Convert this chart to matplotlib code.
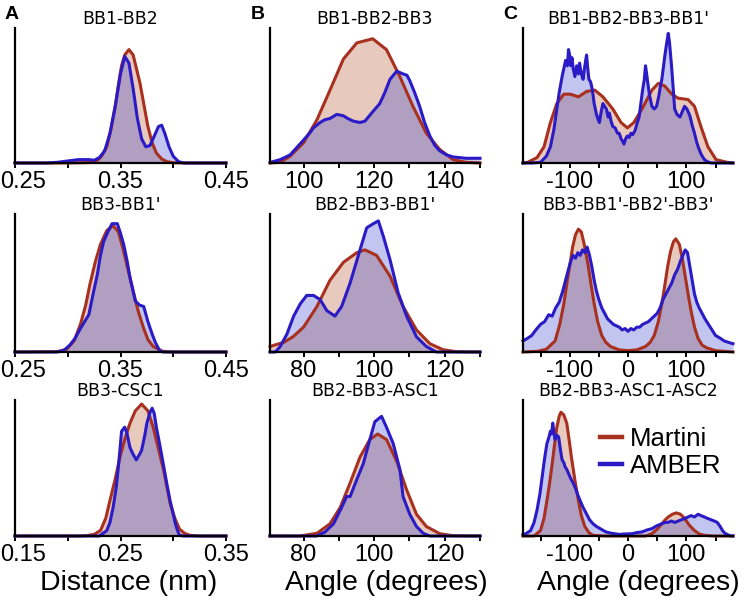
import matplotlib
matplotlib.use("Agg")
import matplotlib.pyplot as plt
from matplotlib.ticker import FixedLocator
from matplotlib.transforms import ScaledTranslation

plt.rcParams['font.family'] = ['Liberation Sans', 'DejaVu Sans']
plt.rcParams['axes.unicode_minus'] = False

# ---------------- data (relative densities) ----------------
# Panel A1: BB1-BB2 distance (nm)
a1_martini = [(0.25, 0), (0.30, 0), (0.320, 0.003), (0.327, 0.01), (0.332, 0.05), (0.337, 0.12),
              (0.341, 0.25), (0.345, 0.42), (0.348, 0.58), (0.351, 0.72), (0.354, 0.80), (0.358, 0.84),
              (0.362, 0.80), (0.3685, 0.59), (0.372, 0.44), (0.376, 0.27), (0.380, 0.15), (0.384, 0.074),
              (0.389, 0.03), (0.394, 0.01), (0.40, 0.002), (0.41, 0), (0.45, 0)]
a1_amber = [(0.25, 0), (0.28, 0), (0.29, 0.005), (0.30, 0.015), (0.31, 0.025), (0.32, 0.025),
            (0.325, 0.02), (0.33, 0.04), (0.335, 0.09), (0.34, 0.22), (0.345, 0.42), (0.35, 0.66),
            (0.354, 0.79), (0.358, 0.74), (0.362, 0.55), (0.366, 0.33), (0.370, 0.18), (0.374, 0.12),
            (0.378, 0.13), (0.382, 0.20), (0.386, 0.27), (0.389, 0.28), (0.392, 0.22), (0.396, 0.12),
            (0.400, 0.05), (0.405, 0.01), (0.41, 0), (0.45, 0)]

# Panel A2: BB3-BB1'
a2_martini = [(0.25, 0), (0.29, 0.003), (0.299, 0.02), (0.306, 0.08), (0.312, 0.20), (0.317, 0.34),
              (0.321, 0.49), (0.326, 0.65), (0.331, 0.78), (0.337, 0.88), (0.343, 0.915), (0.348, 0.87),
              (0.352, 0.76), (0.357, 0.60), (0.362, 0.44), (0.367, 0.29), (0.372, 0.17), (0.376, 0.09),
              (0.381, 0.04), (0.39, 0.005), (0.40, 0), (0.45, 0)]
a2_amber = [(0.25, 0), (0.29, 0), (0.296, 0.01), (0.302, 0.05), (0.307, 0.10), (0.312, 0.17),
            (0.316, 0.22), (0.320, 0.27), (0.324, 0.42), (0.328, 0.56), (0.331, 0.70), (0.334, 0.80),
            (0.338, 0.87), (0.342, 0.93), (0.347, 0.93), (0.350, 0.86), (0.353, 0.78), (0.356, 0.67),
            (0.359, 0.54), (0.362, 0.44), (0.364, 0.37), (0.368, 0.34), (0.372, 0.33), (0.376, 0.22),
            (0.380, 0.13), (0.383, 0.07), (0.387, 0.01), (0.39, 0), (0.45, 0)]

# Panel A3: BB3-CSC1
a3_martini = [(0.15, 0), (0.21, 0), (0.218, 0.003), (0.225, 0.012), (0.231, 0.04), (0.236, 0.13),
              (0.240, 0.26), (0.245, 0.42), (0.2495, 0.58), (0.254, 0.71), (0.259, 0.83), (0.264, 0.92),
              (0.270, 0.97), (0.276, 0.92), (0.281, 0.80), (0.286, 0.64), (0.291, 0.48), (0.297, 0.24),
              (0.302, 0.12), (0.306, 0.05), (0.311, 0.018), (0.316, 0.005), (0.325, 0), (0.35, 0)]
a3_amber = [(0.15, 0), (0.23, 0), (0.237, 0.04), (0.240, 0.10), (0.243, 0.21), (0.246, 0.36),
            (0.248, 0.51), (0.250, 0.68), (0.251, 0.77), (0.254, 0.80), (0.256, 0.76), (0.259, 0.65),
            (0.262, 0.60), (0.265, 0.56), (0.268, 0.60), (0.270, 0.63), (0.273, 0.74), (0.275, 0.83),
            (0.278, 0.91), (0.280, 0.94), (0.282, 0.90), (0.284, 0.80), (0.287, 0.68), (0.291, 0.51),
            (0.294, 0.38), (0.297, 0.26), (0.300, 0.16), (0.302, 0.09), (0.304, 0.04), (0.306, 0.005),
            (0.31, 0), (0.35, 0)]

# Panel B1: BB1-BB2-BB3 angle
b1_martini = [(90.5, 0), (93.4, 0.005), (96.2, 0.05), (100.0, 0.15), (103.8, 0.32), (107.5, 0.54),
              (111.3, 0.77), (115.1, 0.89), (119.6, 0.92), (123.5, 0.84), (127.3, 0.64), (131.0, 0.42),
              (134.8, 0.22), (138.6, 0.10), (142.4, 0.025), (146.0, 0.005), (150.0, 0)]
b1_amber = [(90.6, 0.005), (93.4, 0.025), (96.2, 0.06), (100.0, 0.17), (102.0, 0.23), (102.8, 0.26),
            (104.7, 0.30), (106.0, 0.32), (107.5, 0.33), (109.4, 0.36), (111.3, 0.35), (112.5, 0.33),
            (114.1, 0.31), (116.0, 0.30), (117.4, 0.31), (119.3, 0.37), (121.6, 0.44), (123.0, 0.52),
            (124.5, 0.62), (126.4, 0.68), (128.2, 0.66), (129.3, 0.65), (130.1, 0.61), (131.5, 0.52),
            (132.9, 0.42), (134.3, 0.30), (135.8, 0.20), (137.2, 0.13), (138.6, 0.09), (140.5, 0.06),
            (142.4, 0.045), (146.0, 0.035), (150.0, 0.035)]

# Panel B2: BB2-BB3-BB1'
b2_martini = [(70.5, 0.04), (74.4, 0.07), (77.0, 0.11), (80.0, 0.18), (83.8, 0.33), (87.5, 0.52),
              (91.3, 0.65), (95.1, 0.72), (97.4, 0.74), (100.7, 0.70), (104.5, 0.55), (108.2, 0.33),
              (112.0, 0.16), (115.8, 0.06), (119.5, 0.017), (123.3, 0.002), (130.0, 0)]
b2_amber = [(70.5, 0), (72.0, 0), (73.4, 0.04), (75.3, 0.13), (77.2, 0.26), (79.1, 0.35),
            (80.9, 0.41), (82.8, 0.41), (84.7, 0.38), (86.6, 0.30), (88.9, 0.26), (90.8, 0.33),
            (93.2, 0.50), (96.0, 0.74), (97.9, 0.90), (99.8, 0.93), (101.2, 0.95), (102.6, 0.84),
            (104.5, 0.67), (106.8, 0.43), (109.2, 0.26), (112.0, 0.11), (114.8, 0.04), (117.6, 0),
            (130.0, 0)]

# Panel B3: BB2-BB3-ASC1
b3_martini = [(70.5, 0), (79.0, 0), (83.8, 0.02), (87.5, 0.09), (90.4, 0.21), (93.2, 0.39),
              (96.0, 0.58), (98.8, 0.71), (101.0, 0.75), (103.5, 0.71), (106.4, 0.55), (109.2, 0.34),
              (112.0, 0.16), (114.8, 0.07), (118.6, 0.017), (122.4, 0.002), (130.0, 0)]
b3_amber = [(70.5, 0), (83.8, 0), (86.1, 0.03), (88.5, 0.09), (90.8, 0.21), (92.2, 0.29),
            (93.2, 0.29), (95.0, 0.41), (96.9, 0.53), (98.8, 0.71), (100.2, 0.84), (102.1, 0.88),
            (103.5, 0.80), (105.4, 0.68), (107.3, 0.49), (108.2, 0.29), (110.1, 0.16), (112.0, 0.07),
            (113.9, 0.02), (115.8, 0), (130.0, 0)]

# Panel C1: BB1-BB2-BB3-BB1' dihedral
c1_martini = [(-180, 0), (-172, 0.005), (-156, 0.04), (-144, 0.12), (-133, 0.30), (-122, 0.44),
              (-110, 0.51), (-99, 0.51), (-85, 0.49), (-71, 0.53), (-57, 0.54), (-43, 0.49),
              (-26, 0.40), (-12, 0.30), (-1, 0.26), (10, 0.30), (24, 0.40), (41, 0.54), (52, 0.59),
              (63, 0.57), (75, 0.51), (86, 0.48), (103, 0.47), (114, 0.42), (125, 0.27), (137, 0.12),
              (151, 0.025), (170, 0.005), (180, 0)]
c1_amber = [(-180, 0), (-165, 0), (-150, 0.005), (-140, 0.05), (-133, 0.12), (-127, 0.25),
            (-122, 0.40), (-118, 0.52), (-113, 0.64), (-110, 0.70), (-107, 0.76), (-104, 0.72),
            (-102, 0.84), (-100, 0.80), (-98, 0.72), (-96, 0.78), (-94, 0.70), (-91, 0.64),
            (-88, 0.72), (-85, 0.66), (-83, 0.74), (-80, 0.66), (-77, 0.62), (-74, 0.72),
            (-71, 0.80), (-69, 0.70), (-67, 0.62), (-64, 0.60), (-61, 0.54), (-58, 0.44),
            (-54, 0.36), (-51, 0.32), (-49, 0.30), (-46, 0.38), (-43, 0.44), (-40, 0.42),
            (-37, 0.40), (-34, 0.34), (-32, 0.37), (-29, 0.31), (-26, 0.27), (-22, 0.26),
            (-18, 0.22), (-15, 0.22), (-12, 0.18), (-9, 0.16), (-7, 0.14), (-4, 0.18),
            (-1, 0.20), (2, 0.19), (5, 0.22), (8, 0.21), (12, 0.24), (16, 0.30), (19, 0.34),
            (22, 0.44), (25, 0.54), (28, 0.62), (30, 0.72), (32, 0.66), (34, 0.59), (37, 0.50),
            (41, 0.42), (45, 0.40), (49, 0.42), (53, 0.50), (56, 0.58), (58, 0.62), (61, 0.72),
            (63, 0.79), (66, 0.88), (69, 0.96), (71, 0.90), (73, 0.80), (75, 0.70), (78, 0.52),
            (80, 0.40), (84, 0.36), (89, 0.34), (93, 0.38), (97, 0.42), (101, 0.40), (106, 0.35),
            (110, 0.28), (114, 0.22), (118, 0.15), (122, 0.10), (126, 0.06), (131, 0.025),
            (136, 0.01), (142, 0), (150, 0), (165, 0), (180, 0)]

# Panel C2: BB3-BB1'-BB2'-BB3'
c2_martini = [(-180, 0.0), (-155, 0.005), (-140, 0.02), (-125, 0.08), (-117, 0.20), (-110, 0.35),
              (-104, 0.52), (-100, 0.62), (-95, 0.76), (-90, 0.85), (-85, 0.89), (-80, 0.87),
              (-75, 0.78), (-68, 0.62), (-63, 0.48), (-58, 0.35), (-52, 0.22), (-45, 0.12),
              (-38, 0.07), (-30, 0.04), (-15, 0.015), (0, 0.01), (15, 0.015), (30, 0.04),
              (38, 0.07), (45, 0.12), (52, 0.22), (58, 0.35), (63, 0.48), (68, 0.62), (73, 0.73),
              (78, 0.80), (82, 0.82), (88, 0.78), (93, 0.68), (98, 0.55), (103, 0.42), (108, 0.30),
              (114, 0.18), (120, 0.10), (127, 0.05), (135, 0.03), (150, 0.01), (180, 0)]
c2_amber = [(-180, 0.08), (-172, 0.10), (-165, 0.12), (-158, 0.16), (-150, 0.20), (-143, 0.22),
            (-136, 0.27), (-130, 0.26), (-124, 0.32), (-118, 0.36), (-112, 0.44), (-107, 0.52),
            (-102, 0.60), (-98, 0.66), (-94, 0.70), (-90, 0.68), (-86, 0.72), (-82, 0.70),
            (-78, 0.74), (-74, 0.72), (-70, 0.76), (-66, 0.70), (-62, 0.62), (-58, 0.52),
            (-54, 0.44), (-50, 0.38), (-45, 0.32), (-40, 0.28), (-35, 0.24), (-30, 0.22),
            (-25, 0.20), (-20, 0.19), (-15, 0.18), (-10, 0.16), (-5, 0.17), (0, 0.15), (5, 0.17),
            (10, 0.16), (15, 0.18), (20, 0.18), (25, 0.20), (30, 0.21), (35, 0.22), (40, 0.24),
            (45, 0.26), (50, 0.28), (55, 0.32), (60, 0.38), (65, 0.42), (70, 0.46), (75, 0.50),
            (80, 0.56), (85, 0.60), (90, 0.66), (94, 0.70), (98, 0.74), (102, 0.72), (106, 0.62),
            (110, 0.52), (114, 0.42), (118, 0.36), (122, 0.32), (127, 0.28), (132, 0.24),
            (138, 0.20), (144, 0.16), (150, 0.12), (158, 0.10), (165, 0.08), (172, 0.07), (180, 0.06)]

# Panel C3: BB2-BB3-ASC1-ASC2
c3_martini = [(-180, 0), (-161, 0), (-150, 0.04), (-144, 0.13), (-139, 0.26), (-134, 0.40),
              (-130, 0.53), (-126, 0.67), (-122, 0.80), (-118, 0.88), (-115, 0.91), (-110, 0.89),
              (-105, 0.83), (-101, 0.71), (-97, 0.58), (-91, 0.41), (-85, 0.26), (-80, 0.15),
              (-74, 0.07), (-67, 0.025), (-60, 0.005), (-40, 0), (30, 0), (41, 0.017), (50, 0.05),
              (58, 0.09), (64, 0.12), (69, 0.14), (76, 0.16), (83, 0.17), (90, 0.16), (97, 0.13),
              (105, 0.08), (114, 0.04), (122, 0.015), (131, 0.005), (145, 0), (180, 0)]
c3_amber = [(-180, 0.01), (-175, 0.017), (-167, 0.04), (-161, 0.10), (-156, 0.19), (-151, 0.31),
            (-147, 0.44), (-143, 0.57), (-139, 0.68), (-136, 0.72), (-133, 0.77), (-131, 0.75),
            (-129, 0.83), (-127, 0.76), (-125, 0.71), (-122, 0.74), (-119, 0.73), (-116, 0.64),
            (-113, 0.56), (-110, 0.54), (-108, 0.51), (-105, 0.49), (-102, 0.46), (-98, 0.42),
            (-94, 0.39), (-90, 0.35), (-85, 0.29), (-81, 0.25), (-77, 0.21), (-72, 0.17),
            (-66, 0.12), (-60, 0.09), (-54, 0.07), (-46, 0.05), (-38, 0.03), (-28, 0.02),
            (-15, 0.012), (-5, 0.015), (7, 0.017), (15, 0.025), (24, 0.03), (33, 0.045), (41, 0.054),
            (47, 0.07), (52, 0.08), (58, 0.09), (64, 0.10), (69, 0.10), (74, 0.11), (80, 0.10),
            (86, 0.11), (92, 0.12), (98, 0.13), (103, 0.14), (108, 0.15), (114, 0.14), (120, 0.16),
            (125, 0.15), (131, 0.14), (136, 0.13), (142, 0.12), (148, 0.11), (153, 0.10),
            (158, 0.07), (162, 0.04), (166, 0.02), (170, 0.012), (176, 0), (180, 0)]

titles = [["BB1-BB2", "BB1-BB2-BB3", "BB1-BB2-BB3-BB1'"],
          ["BB3-BB1'", "BB2-BB3-BB1'", "BB3-BB1'-BB2'-BB3'"],
          ["BB3-CSC1", "BB2-BB3-ASC1", "BB2-BB3-ASC1-ASC2"]]
series = [[(a1_martini, a1_amber), (b1_martini, b1_amber), (c1_martini, c1_amber)],
          [(a2_martini, a2_amber), (b2_martini, b2_amber), (c2_martini, c2_amber)],
          [(a3_martini, a3_amber), (b3_martini, b3_amber), (c3_martini, c3_amber)]]
xlims = [[(0.25, 0.45), (90.5, 150), (-180, 180)],
         [(0.25, 0.45), (70.5, 130), (-180, 180)],
         [(0.15, 0.35), (70.5, 130), (-180, 180)]]
major_ticks = [[[0.25, 0.35, 0.45], [100, 120, 140], [-100, 0, 100]],
               [[0.25, 0.35, 0.45], [80, 100, 120], [-100, 0, 100]],
               [[0.15, 0.25, 0.35], [80, 100, 120], [-100, 0, 100]]]
minor_ticks = [[[0.30, 0.40], [110, 130, 150], [-150, -50, 50, 150]],
               [[0.30, 0.40], [90, 110, 130], [-150, -50, 50, 150]],
               [[0.20, 0.30], [90, 110, 130], [-150, -50, 50, 150]]]
tick_labels = [[["0.25", "0.35", "0.45"], ["100", "120", "140"], ["-100", "0", "100"]],
               [["0.25", "0.35", "0.45"], ["80", "100", "120"], ["-100", "0", "100"]],
               [["0.15", "0.25", "0.35"], ["80", "100", "120"], ["-100", "0", "100"]]]
xlabels = ["Distance (nm)", "Angle (degrees)", "Angle (degrees)"]
panel_letters = ["A", "B", "C"]
legend_labels = ["Martini", "AMBER"]

# ---------------- style ----------------
RED = "#A8301E"
BLUE = "#2B1BC6"
RED_FILL = (0.70, 0.30, 0.15)
BLUE_FILL = (0.20, 0.25, 0.80)

W, H = 747, 602
fig = plt.figure(figsize=(W / 100, H / 100), dpi=100)

col_left = [15, 270, 523]
col_width = [211, 210, 210]
row_top = [28, 214, 400]
row_bottom = [163, 352, 536]

for r in range(3):
    for c in range(3):
        ax = fig.add_axes([col_left[c] / W, 1 - row_bottom[r] / H,
                           col_width[c] / W, (row_bottom[r] - row_top[r]) / H])
        mart, amb = series[r][c]
        mx, my = zip(*mart)
        bx, by = zip(*amb)
        ax.fill_between(mx, my, 0, color=RED_FILL, alpha=0.3, lw=0)
        ax.fill_between(bx, by, 0, color=BLUE_FILL, alpha=0.3, lw=0)
        ax.plot(mx, my, color=RED, lw=2.2, clip_on=False, label=legend_labels[0])
        ax.plot(bx, by, color=BLUE, lw=2.2, clip_on=False, label=legend_labels[1])
        ax.set_xlim(*xlims[r][c])
        ax.set_ylim(0, 1)
        for s in ("top", "right"):
            ax.spines[s].set_visible(False)
        for s in ("left", "bottom"):
            ax.spines[s].set_linewidth(1.6)
            ax.spines[s].set_color("black")
        ax.set_yticks([])
        ax.xaxis.set_major_locator(FixedLocator(major_ticks[r][c]))
        ax.xaxis.set_minor_locator(FixedLocator(minor_ticks[r][c]))
        ax.set_xticklabels(tick_labels[r][c])
        ax.tick_params(axis="x", which="both", direction="out", length=3.6, width=1.4,
                       labelsize=17, pad=2.5)
        if c == 0:
            first = ax.get_xticklabels()[0]
            first.set_horizontalalignment("left")
            first.set_transform(first.get_transform() +
                                ScaledTranslation(-15 / 100, 0, fig.dpi_scale_trans))
        ax.set_title(titles[r][c], fontsize=12.5, pad=0.5, family="DejaVu Sans")
        ax.patch.set_alpha(0)
        if r == 2 and c == 2:
            ax.legend(loc="upper left", bbox_to_anchor=(600 / W, 1 - 427 / H),
                      bbox_transform=fig.transFigure, frameon=False, fontsize=18.5,
                      handlelength=0.85, handletextpad=0.3, labelspacing=0.12,
                      borderpad=0, borderaxespad=0)
            for line in ax.get_legend().get_lines():
                line.set_linewidth(3.2)

# x labels
xlabel_centers = [129, 386, 638]
for c in range(3):
    fig.text(xlabel_centers[c] / W, 1 - 583 / H, xlabels[c], ha="center", va="center",
             fontsize=20.5)

# panel letters
letter_x = [5, 251, 503]
for c in range(3):
    fig.text(letter_x[c] / W, 1 - 14.5 / H, panel_letters[c], ha="left", va="center",
             fontsize=14, fontweight="bold")

fig.savefig("out.png", dpi=100)
